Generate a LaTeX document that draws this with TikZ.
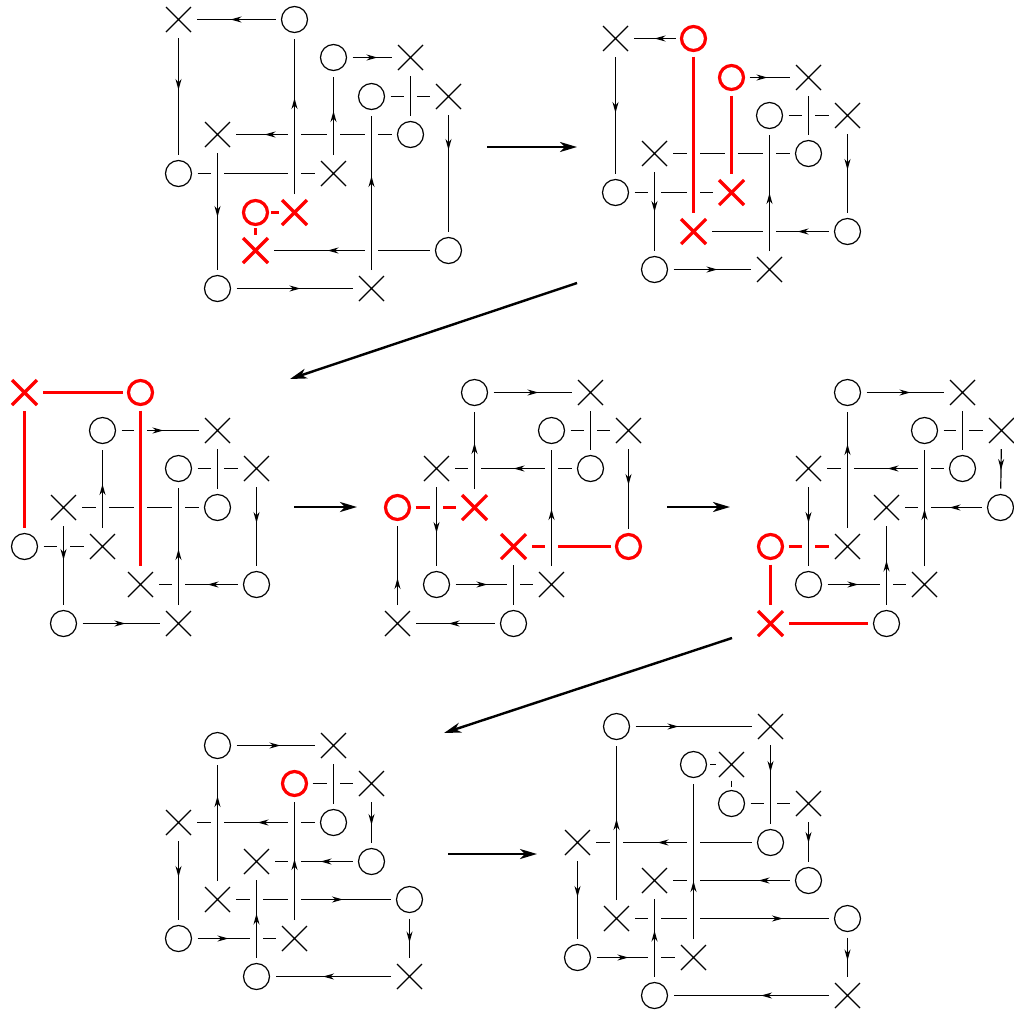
\documentclass[tikz,border=0pt]{standalone}
\usetikzlibrary{arrows.meta,shapes.misc,decorations.markings}
\tikzset{
  sym/.style={draw, inner sep=0pt, outer sep=0pt, line width=1.2pt},
  osym/.style={sym, circle, minimum size=26pt},
  xsym/.style={sym, cross out, minimum size=25pt},
  rosym/.style={osym, draw=red, line width=3.2pt, minimum size=24pt},
  rxsym/.style={xsym, draw=red, line width=3.2pt},
  ln/.style={line width=1.2pt, shorten <=6pt, shorten >=6pt},
  rln/.style={ln, draw=red, line width=3.2pt},
  gap/.style={preaction={draw=white, line width=13pt, shorten <=6pt, shorten >=6pt}},
  adj/.style={line width=1.2pt, shorten <=3.5pt, shorten >=3.5pt},
  radj/.style={adj, draw=red, line width=3.2pt},
  ar/.style={postaction={draw=none, decorate, decoration={markings, mark=at position #1pt with {\arrow{Stealth[length=11pt,width=6pt,inset=3.5pt]}}}}},
  big/.style={line width=2.4pt, -{Stealth[length=17pt,width=10pt,inset=5pt]}},
}
\begin{document}
\begin{tikzpicture}[x=1pt, y=-1pt]
\useasboundingbox (0,0) rectangle (1014,1013);

% ---------- panel 1 ----------
\node[xsym] (a1) at (178.5,19.5) {};
\node[osym] (a2) at (294.5,19.5) {};
\node[osym] (a3) at (333.5,57.5) {};
\node[xsym] (a4) at (410.5,57.5) {};
\node[osym] (a5) at (371.5,96.5) {};
\node[xsym] (a6) at (448.5,96.5) {};
\node[xsym] (a7) at (217.5,134.5) {};
\node[osym] (a8) at (410.5,134.5) {};
\node[osym] (a9) at (178.5,173.5) {};
\node[xsym] (a10) at (333.5,173.5) {};
\node[rosym] (a11) at (255.5,212.5) {};
\node[rxsym] (a12) at (294.5,212.5) {};
\node[rxsym] (a13) at (255.5,250.5) {};
\node[osym] (a14) at (448.5,250.5) {};
\node[osym] (a15) at (217.5,288.5) {};
\node[xsym] (a16) at (371.5,288.5) {};
\draw[ln, ar=51] (a2) -- (a1);
\draw[ln, ar=31] (a3) -- (a4);
\draw[ln] (a5) -- (a6);
\draw[ln, ar=133] (a8) -- (a7);
\draw[ln] (a9) -- (a10);
\draw[radj] (a11) -- (a12);
\draw[ln, ar=108] (a14) -- (a13);
\draw[ln, ar=70] (a15) -- (a16);
\draw[ln, gap, ar=58] (a1) -- (a9);
\draw[ln, gap, ar=70] (a7) -- (a15);
\draw[radj] (a11) -- (a13);
\draw[ln, gap, ar=102] (a12) -- (a2);
\draw[ln, gap, ar=50] (a10) -- (a3);
\draw[ln, gap, ar=100] (a16) -- (a5);
\draw[ln, gap] (a4) -- (a8);
\draw[ln, gap, ar=41] (a6) -- (a14);

% ---------- panel 2 ----------
\node[xsym] (b1) at (615.5,38.5) {};
\node[rosym] (b2) at (693.5,38.5) {};
\node[rosym] (b3) at (731.5,77.5) {};
\node[xsym] (b4) at (808.5,77.5) {};
\node[osym] (b5) at (769.5,115.5) {};
\node[xsym] (b6) at (847.5,115.5) {};
\node[xsym] (b7) at (654.5,153.5) {};
\node[osym] (b8) at (808.5,153.5) {};
\node[osym] (b9) at (615.5,192.5) {};
\node[rxsym] (b10) at (731.5,192.5) {};
\node[rxsym] (b11) at (693.5,231.5) {};
\node[osym] (b12) at (847.5,231.5) {};
\node[osym] (b13) at (654.5,269.5) {};
\node[xsym] (b14) at (769.5,269.5) {};
\draw[ln, ar=27] (b2) -- (b1);
\draw[ln, ar=24] (b3) -- (b4);
\draw[ln] (b5) -- (b6);
\draw[ln] (b7) -- (b8);
\draw[ln] (b9) -- (b10);
\draw[ln, ar=37] (b12) -- (b11);
\draw[ln, ar=50] (b13) -- (b14);
\draw[ln, gap, ar=62] (b1) -- (b9);
\draw[ln, gap, ar=46] (b7) -- (b13);
\draw[rln, gap] (b2) -- (b11);
\draw[rln, gap] (b3) -- (b10);
\draw[ln, gap, ar=64] (b14) -- (b5);
\draw[ln, gap] (b4) -- (b8);
\draw[ln, gap, ar=42] (b6) -- (b12);

% ---------- panel 3 ----------
\node[rxsym] (c1) at (24.5,392.5) {};
\node[rosym] (c2) at (140.5,392.5) {};
\node[osym] (c3) at (102.5,430.5) {};
\node[xsym] (c4) at (217.5,430.5) {};
\node[osym] (c5) at (178.5,468.5) {};
\node[xsym] (c6) at (256.5,468.5) {};
\node[xsym] (c7) at (63.5,507.5) {};
\node[osym] (c8) at (217.5,507.5) {};
\node[osym] (c9) at (24.5,546.5) {};
\node[xsym] (c10) at (102.5,546.5) {};
\node[xsym] (c11) at (140.5,584.5) {};
\node[osym] (c12) at (256.5,584.5) {};
\node[osym] (c13) at (63.5,623.5) {};
\node[xsym] (c14) at (178.5,623.5) {};
\draw[rln] (c1) -- (c2);
\draw[ln, ar=48] (c3) -- (c4);
\draw[ln] (c5) -- (c6);
\draw[ln] (c7) -- (c8);
\draw[ln] (c9) -- (c10);
\draw[ln, ar=36] (c12) -- (c11);
\draw[ln, ar=49] (c13) -- (c14);
\draw[rln, gap] (c1) -- (c9);
\draw[ln, gap, ar=40] (c7) -- (c13);
\draw[ln, gap, ar=50] (c10) -- (c3);
\draw[rln, gap] (c2) -- (c11);
\draw[ln, gap, ar=62] (c14) -- (c5);
\draw[ln, gap] (c4) -- (c8);
\draw[ln, gap, ar=42] (c6) -- (c12);

% ---------- panel 4 ----------
\node[osym] (d1) at (474.5,392.5) {};
\node[xsym] (d2) at (590.5,392.5) {};
\node[osym] (d3) at (551.5,430.5) {};
\node[xsym] (d4) at (628.5,430.5) {};
\node[xsym] (d5) at (436.5,468.5) {};
\node[osym] (d6) at (590.5,468.5) {};
\node[rosym] (d7) at (397.5,507.5) {};
\node[rxsym] (d8) at (474.5,507.5) {};
\node[rxsym] (d9) at (513.5,546.5) {};
\node[rosym] (d10) at (628.5,546.5) {};
\node[osym] (d11) at (436.5,584.5) {};
\node[xsym] (d12) at (551.5,584.5) {};
\node[xsym] (d13) at (397.5,623.5) {};
\node[osym] (d14) at (513.5,623.5) {};
\draw[ln, ar=51] (d1) -- (d2);
\draw[ln] (d3) -- (d4);
\draw[ln, ar=64] (d6) -- (d5);
\draw[rln] (d7) -- (d8);
\draw[rln] (d9) -- (d10);
\draw[ln, ar=38] (d11) -- (d12);
\draw[ln, ar=52] (d14) -- (d13);
\draw[ln, gap, ar=33] (d13) -- (d7);
\draw[ln, gap, ar=52] (d5) -- (d11);
\draw[ln, gap, ar=52] (d8) -- (d1);
\draw[ln, gap] (d9) -- (d14);
\draw[ln, gap, ar=63] (d12) -- (d3);
\draw[ln, gap] (d2) -- (d6);
\draw[ln, gap, ar=42] (d4) -- (d10);

% ---------- panel 5 ----------
\node[osym] (e1) at (847.5,392.5) {};
\node[xsym] (e2) at (962.5,392.5) {};
\node[osym] (e3) at (924.5,430.5) {};
\node[xsym] (e4) at (1001.5,430.5) {};
\node[xsym] (e5) at (808.5,468.5) {};
\node[osym] (e6) at (962.5,468.5) {};
\node[xsym] (e7) at (886.5,507.5) {};
\node[osym] (e8) at (1000.5,507.5) {};
\node[rosym] (e9) at (770.5,546.5) {};
\node[xsym] (e10) at (847.5,546.5) {};
\node[osym] (e11) at (808.5,584.5) {};
\node[xsym] (e12) at (924.5,584.5) {};
\node[rxsym] (e13) at (770.5,623.5) {};
\node[osym] (e14) at (886.5,623.5) {};
\draw[ln, ar=50] (e1) -- (e2);
\draw[ln] (e3) -- (e4);
\draw[ln, ar=62] (e6) -- (e5);
\draw[ln, ar=38] (e8) -- (e7);
\draw[rln] (e9) -- (e10);
\draw[ln, ar=37] (e11) -- (e12);
\draw[rln] (e13) -- (e14);
\draw[rln] (e9) -- (e13);
\draw[ln, gap, ar=42] (e5) -- (e11);
\draw[ln, gap, ar=90] (e10) -- (e1);
\draw[ln, gap, ar=50] (e14) -- (e7);
\draw[ln, gap, ar=63] (e12) -- (e3);
\draw[ln, gap] (e2) -- (e6);
\draw[ln, gap, ar=27] (e4) -- (e8);

% ---------- panel 6 ----------
\node[osym] (f1) at (217.5,745.5) {};
\node[xsym] (f2) at (333.5,745.5) {};
\node[rosym] (f3) at (294.5,783.5) {};
\node[xsym] (f4) at (371.5,783.5) {};
\node[xsym] (f5) at (178.5,822.5) {};
\node[osym] (f6) at (333.5,822.5) {};
\node[xsym] (f7) at (256.5,861.5) {};
\node[osym] (f8) at (371.5,861.5) {};
\node[xsym] (f9) at (217.5,899.5) {};
\node[osym] (f10) at (409.5,899.5) {};
\node[osym] (f11) at (178.5,938.5) {};
\node[xsym] (f12) at (294.5,938.5) {};
\node[osym] (f13) at (256.5,976.5) {};
\node[xsym] (f14) at (409.5,976.5) {};
\draw[ln, ar=50] (f1) -- (f2);
\draw[ln] (f3) -- (f4);
\draw[ln, ar=63] (f6) -- (f5);
\draw[ln, ar=38] (f8) -- (f7);
\draw[ln, ar=113] (f9) -- (f10);
\draw[ln, ar=37] (f11) -- (f12);
\draw[ln, ar=74] (f14) -- (f13);
\draw[ln, gap, ar=42] (f5) -- (f11);
\draw[ln, gap, ar=91] (f9) -- (f1);
\draw[ln, gap, ar=50] (f13) -- (f7);
\draw[ln, gap, ar=67] (f12) -- (f3);
\draw[ln, gap] (f2) -- (f6);
\draw[ln, gap, ar=29] (f4) -- (f8);
\draw[ln, gap, ar=30] (f10) -- (f14);

% ---------- panel 7 ----------
\node[osym] (g1) at (616.5,726.5) {};
\node[xsym] (g2) at (770.5,726.5) {};
\node[osym] (g3) at (693.5,764.5) {};
\node[xsym] (g4) at (731.5,764.5) {};
\node[osym] (g5) at (731.5,803.5) {};
\node[xsym] (g6) at (808.5,803.5) {};
\node[xsym] (g7) at (577.5,842.5) {};
\node[osym] (g8) at (770.5,842.5) {};
\node[xsym] (g9) at (654.5,880.5) {};
\node[osym] (g10) at (808.5,880.5) {};
\node[xsym] (g11) at (616.5,918.5) {};
\node[osym] (g12) at (847.5,918.5) {};
\node[osym] (g13) at (577.5,957.5) {};
\node[xsym] (g14) at (693.5,957.5) {};
\node[osym] (g15) at (654.5,995.5) {};
\node[xsym] (g16) at (847.5,995.5) {};
\draw[ln, ar=49] (g1) -- (g2);
\draw[adj] (g3) -- (g4);
\draw[ln] (g5) -- (g6);
\draw[ln, ar=100] (g8) -- (g7);
\draw[ln, ar=37] (g10) -- (g9);
\draw[ln, ar=154] (g11) -- (g12);
\draw[ln, ar=38] (g13) -- (g14);
\draw[ln, ar=74] (g16) -- (g15);
\draw[ln, gap, ar=42] (g7) -- (g13);
\draw[ln, gap, ar=87] (g11) -- (g1);
\draw[ln, gap, ar=52] (g15) -- (g9);
\draw[ln, gap, ar=64] (g14) -- (g3);
\draw[adj] (g4) -- (g5);
\draw[ln, gap, ar=33] (g2) -- (g8);
\draw[ln, gap, ar=27] (g6) -- (g10);
\draw[ln, gap, ar=29] (g12) -- (g16);

% ---------- arrows between panels ----------
\coordinate (s1) at (487,147); \coordinate (t1) at (577,147);
\coordinate (s2) at (577,283); \coordinate (t2) at (290,379);
\coordinate (s3) at (294,507); \coordinate (t3) at (357,507);
\coordinate (s4) at (667,507); \coordinate (t4) at (730,507);
\coordinate (s5) at (732,638); \coordinate (t5) at (444,733);
\coordinate (s6) at (448,854); \coordinate (t6) at (537,854);
\draw[big] (s1) -- (t1);
\draw[big] (s2) -- (t2);
\draw[big] (s3) -- (t3);
\draw[big] (s4) -- (t4);
\draw[big] (s5) -- (t5);
\draw[big] (s6) -- (t6);
\end{tikzpicture}
\end{document}
